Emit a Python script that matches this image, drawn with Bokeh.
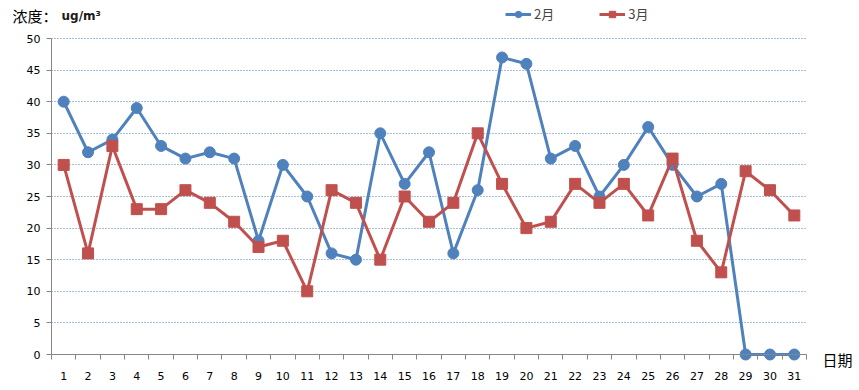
from bokeh.plotting import figure
from bokeh.models import Range1d, FixedTicker, Label, Legend, LegendItem, ColumnDataSource, Grid
from bokeh.embed import file_html
from bokeh.resources import INLINE

days = list(range(1, 32))
day_labels = [str(d) for d in days]
feb = [40, 32, 34, 39, 33, 31, 32, 31, 18, 30, 25, 16, 15, 35, 27, 32, 16, 26, 47, 46,
       31, 33, 25, 30, 36, 30, 25, 27, 0, 0, 0]
mar = [30, 16, 33, 23, 23, 26, 24, 21, 17, 18, 10, 26, 24, 15, 25, 21, 24, 35, 27, 20,
       21, 27, 24, 27, 22, 31, 18, 13, 29, 26, 22]
y_ticks = list(range(0, 55, 5))
series_names = ["2月", "3月"]
title_text = "浓度："
unit_text = "ug/m³"
x_title = "日期"

BLUE = "#4F81BD"
RED = "#C0504D"
AXIS = "#868686"

W, H = 859, 390
# pixel geometry of the plotting region
PX_L, PX_R, PX_T, PX_B = 51, 806, 38, 354
X0, X1 = 0.5, 31.5
Y0, Y1 = 0, 50
sx = (X1 - X0) / (PX_R - PX_L)
sy = (Y1 - Y0) / (PX_B - PX_T)
x_range = Range1d(X0 - PX_L * sx, X1 + (W - PX_R) * sx)
y_range = Range1d(Y0 - (H - PX_B) * sy, Y1 + PX_T * sy)

src = ColumnDataSource(dict(x=days, feb=feb, mar=mar))

p = figure(width=W, height=H, output_backend="svg", toolbar_location=None,
           x_range=x_range, y_range=y_range,
           min_border=0, min_border_left=0, min_border_right=0,
           min_border_top=0, min_border_bottom=0)
p.outline_line_color = None
p.background_fill_color = "white"
p.border_fill_color = "white"

# x axis
xa = p.xaxis[0]
xa.fixed_location = 0
xa.bounds = (X0, X1)
xa.ticker = FixedTicker(ticks=days, minor_ticks=[d - 0.5 for d in days] + [31.5])
xa.major_label_overrides = {d: l for d, l in zip(days, day_labels)}
xa.major_tick_out = 0
xa.major_tick_in = 0
xa.minor_tick_out = 5
xa.minor_tick_in = 0
xa.minor_tick_line_color = AXIS
xa.axis_line_color = AXIS
xa.major_label_standoff = 12
xa.major_label_text_font = "DejaVu Sans"
xa.major_label_text_font_size = "11px"
xa.major_label_text_color = "#000000"

# y axis
ya = p.yaxis[0]
ya.fixed_location = X0
ya.bounds = (Y0, Y1)
ya.ticker = FixedTicker(ticks=y_ticks, minor_ticks=[])
ya.major_tick_out = 5
ya.major_tick_in = 0
ya.major_tick_line_color = AXIS
ya.axis_line_color = AXIS
ya.major_label_standoff = 6
ya.major_label_text_font = "DejaVu Sans"
ya.major_label_text_font_size = "11px"
ya.major_label_text_color = "#000000"

p.xgrid.grid_line_color = None
yg = p.ygrid[0]
yg.ticker = FixedTicker(ticks=y_ticks[1:])
yg.grid_line_color = "#4A7EBB"
yg.grid_line_dash = "1 2"
yg.grid_line_width = 1
if "cross_bounds" in Grid.properties():
    yg.cross_bounds = (X0, X1)

l1 = p.line("x", "feb", source=src, line_color=BLUE, line_width=3)
s1 = p.scatter("x", "feb", source=src, marker="circle", size=11, fill_color=BLUE, line_color=BLUE)
l2 = p.line("x", "mar", source=src, line_color=RED, line_width=3)
s2 = p.scatter("x", "mar", source=src, marker="square", size=11, fill_color=RED, line_color=RED)

legend = Legend(items=[LegendItem(label=series_names[0], renderers=[l1, s1]),
                       LegendItem(label=series_names[1], renderers=[l2, s2])],
                orientation="horizontal", location=(505, H - 15 - 8),
                border_line_color=None, background_fill_alpha=0,
                padding=0, margin=0, spacing=45, glyph_width=26, glyph_height=16,
                label_text_font="Noto Sans CJK SC", label_text_font_size="13px",
                label_standoff=3)
p.add_layout(legend, "center")

p.add_layout(Label(x=X0, y=Y1, x_offset=12 - PX_L, y_offset=PX_T - 15, text=title_text,
                   text_font="Noto Sans CJK SC", text_font_size="15px",
                   text_baseline="middle", text_color="#000000"))
p.add_layout(Label(x=X0, y=Y1, x_offset=61 - PX_L, y_offset=PX_T - 15, text=unit_text,
                   text_font="DejaVu Sans", text_font_size="12px", text_font_style="bold",
                   text_baseline="middle", text_color="#1a1a1a"))
p.add_layout(Label(x=X1, y=Y0, x_offset=16, y_offset=-5, text=x_title,
                   text_font="Noto Sans CJK SC", text_font_size="15px",
                   text_baseline="middle", text_color="#000000"))

open("out.html", "w").write(file_html(p, INLINE))
